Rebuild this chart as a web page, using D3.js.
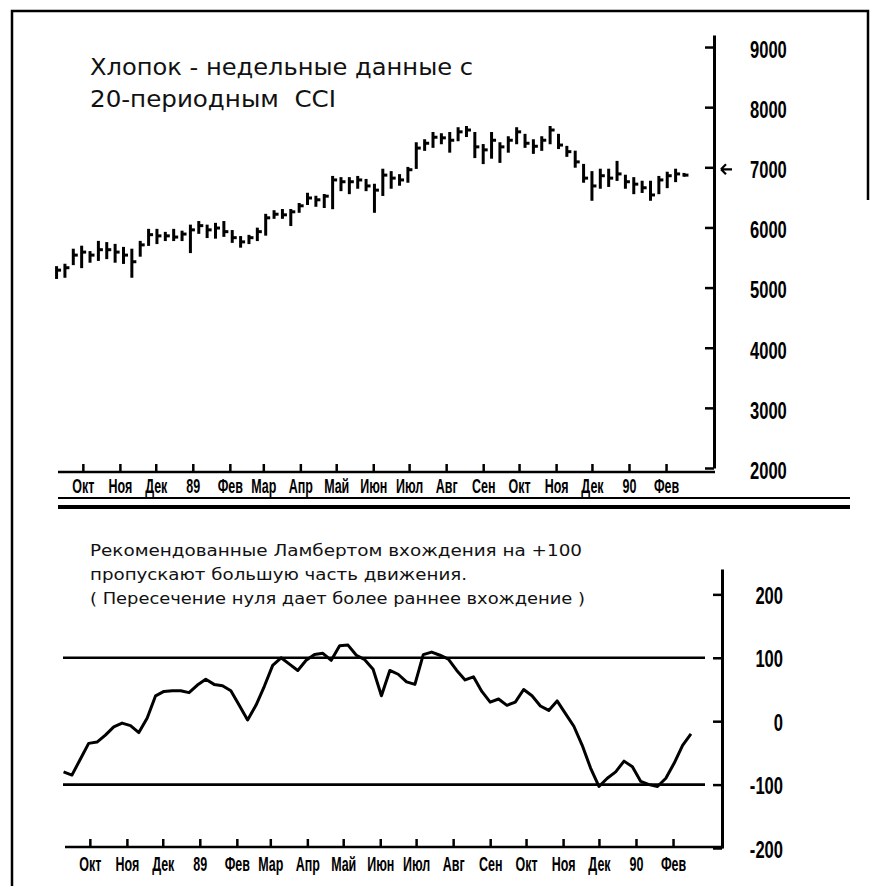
<!DOCTYPE html>
<meta charset="utf-8">
<head>
<script src="https://d3js.org/d3.v7.min.js"></script>
<style>
body { margin: 0; background: #fff; }
.num { font-family: "Liberation Sans", Arial, sans-serif; font-weight: bold; }
.note { font-family: "DejaVu Sans", sans-serif; fill: #111; }
</style>
</head>
<body>
<svg width="872" height="886"></svg>
<script>
// weekly cotton bars, Sep 1988 - Feb 1990
var priceHigh = [5340,5380,5630,5680,5590,5760,5740,5710,5660,5630,5760,5960,5960,5910,5960,5930,
  6030,6090,6030,6060,6090,5940,5840,5860,5980,6210,6270,6290,6290,6390,6560,6510,6540,6840,6820,6820,
  6840,6790,6710,6960,6920,6870,6990,7400,7450,7570,7550,7570,7650,7670,7570,7370,7570,7400,7500,7650,
  7540,7450,7500,7670,7540,7340,7260,7040,6920,6960,6960,7090,6860,6820,6760,6760,6840,6910,6960,6890];
var priceLow = [5160,5180,5390,5340,5430,5460,5490,5430,5410,5180,5530,5710,5740,5790,5790,5790,
  5590,5910,5840,5830,5860,5760,5680,5740,5790,5880,6160,6160,6040,6260,6390,6360,6340,6320,6620,6570,
  6660,6620,6260,6540,6660,6710,6760,6990,7290,7340,7400,7260,7450,7520,7170,7070,7160,7090,7260,7400,
  7340,7240,7290,7400,7320,7190,7010,6760,6460,6660,6690,6790,6660,6570,6590,6460,6570,6670,6770,6860];
var priceClose = [5290,5330,5540,5590,5540,5630,5630,5590,5540,5430,5710,5880,5860,5860,5840,5890,
  5960,6030,5960,5990,5930,5830,5760,5830,5930,6160,6220,6210,6260,6360,6490,6460,6520,6790,6760,6760,
  6790,6690,6620,6870,6820,6790,6960,7320,7400,7500,7490,7450,7590,7620,7340,7290,7450,7340,7450,7590,
  7400,7350,7450,7620,7370,7260,7090,6820,6690,6860,6820,6890,6760,6720,6660,6540,6790,6860,6890,6870];

// 20-period CCI, same weeks
var cci = [-80,-85,-60,-35,-33,-22,-9,-3,-7,-18,5,40,47,48,48,45,57,66,58,56,48,25,2,25,55,88,
  100,90,80,96,105,107,96,119,120,104,97,82,40,80,74,62,58,105,109,104,98,80,65,70,47,30,35,25,30,50,
  40,24,17,32,12,-8,-38,-74,-103,-90,-80,-63,-72,-95,-100,-103,-90,-66,-38,-20];

var monthTicks = ["1988-10-01","1988-11-01","1988-12-01","1989-01-01","1989-02-01","1989-03-01",
  "1989-04-01","1989-05-01","1989-06-01","1989-07-01","1989-08-01","1989-09-01","1989-10-01",
  "1989-11-01","1989-12-01","1990-01-01","1990-02-01"];
var monthLabels = ["Окт","Ноя","Дек","89","Фев","Мар","Апр","Май","Июн","Июл","Авг","Сен",
  "Окт","Ноя","Дек","90","Фев"];
var priceTicks = [2000,3000,4000,5000,6000,7000,8000,9000];
var cciTicks = [-200,-100,0,100,200];
var cciLevels = [100,-100];

var svg = d3.select("svg");
var parse = d3.timeParse("%Y-%m-%d");
var start = parse("1988-09-09");
var weeks = d3.range(priceClose.length).map(function(i) { return d3.timeWeek.offset(start, i); });
var tickDates = monthTicks.map(parse);

var x = d3.scaleTime()
    .domain([parse("1988-09-01"), parse("1990-03-01")])
    .range([47, 699.5]);

// narrow bold labels: squeeze the glyphs horizontally around their anchor
function squeeze(sel, sx, size) {
  sel.each(function() {
    var t = d3.select(this);
    var x0 = +t.attr("x") || 0, y0 = +t.attr("y") || 0;
    t.attr("x", 0).attr("y", 0)
      .attr("font-size", size)
      .attr("fill", "#000")
      .attr("transform", "translate(" + x0 + "," + y0 + ") scale(" + sx + ",1)");
  });
}

// frame
svg.append("rect").attr("width", 872).attr("height", 886).attr("fill", "#fff");
var frame = svg.append("g").attr("stroke", "#000").attr("fill", "none");
frame.append("path").attr("stroke-width", 2.5).attr("d", "M12,886V11H868V200");
frame.append("line").attr("x1", 58).attr("x2", 850).attr("y1", 498).attr("y2", 498).attr("stroke-width", 2);
frame.append("line").attr("x1", 58).attr("x2", 850).attr("y1", 507).attr("y2", 507).attr("stroke-width", 4);

// ---------- upper panel: price bars ----------
var upper = svg.append("g");
var y = d3.scaleLinear().domain([2000, 9200]).range([468, 35]);

var bars = upper.append("g").attr("stroke", "#000").attr("stroke-width", 3);
bars.selectAll("line.hl")
  .data(weeks)
  .enter().append("line")
    .attr("class", "hl")
    .attr("x1", function(d) { return x(d); })
    .attr("x2", function(d) { return x(d); })
    .attr("y1", function(d, i) { return y(priceHigh[i]) - 1; })
    .attr("y2", function(d, i) { return y(priceLow[i]) + 1; });
bars.selectAll("line.cl")
  .data(weeks)
  .enter().append("line")
    .attr("class", "cl")
    .attr("x1", function(d) { return x(d); })
    .attr("x2", function(d) { return x(d) + 4.5; })
    .attr("y1", function(d, i) { return y(priceClose[i]); })
    .attr("y2", function(d, i) { return y(priceClose[i]); });

var yAxisTop = upper.append("g")
    .attr("class", "num")
    .attr("transform", "translate(714,0)")
    .call(d3.axisRight(y).tickValues(priceTicks).tickSizeInner(-9).tickSizeOuter(0).tickPadding(36)
      .tickFormat(function(d) { return String(d); }));
yAxisTop.attr("font-family", null);
yAxisTop.select(".domain").attr("stroke-width", 3);
yAxisTop.selectAll(".tick line").attr("stroke-width", 2.5);
yAxisTop.selectAll("text").attr("dy", "0.45em");
squeeze(yAxisTop.selectAll("text"), 0.72, 23);

var xAxisTop = upper.append("g")
    .attr("class", "num")
    .attr("transform", "translate(0,472)")
    .call(d3.axisBottom(x).tickValues(tickDates).tickSizeInner(-8).tickSizeOuter(0).tickPadding(7)
      .tickFormat(function(d, i) { return monthLabels[i]; }));
xAxisTop.select(".domain").remove();
xAxisTop.attr("font-family", null);
xAxisTop.selectAll(".tick line").attr("stroke-width", 2.5);
squeeze(xAxisTop.selectAll("text"), 0.64, 19.5);
upper.append("line").attr("x1", 58).attr("x2", 715).attr("y1", 472).attr("y2", 472)
  .attr("stroke", "#000").attr("stroke-width", 2.5);

// marker arrow at the last price
upper.append("path")
  .attr("d", "M721," + (y(7000) + 2) + "l5,-5M721," + (y(7000) + 2) + "l5,5M721," + (y(7000) + 2) + "h11")
  .attr("stroke", "#000").attr("stroke-width", 2.2).attr("fill", "none");

var titles = ["Хлопок - недельные данные с", "20-периодным  CCI"];
var titleLen = [383, 246];
upper.selectAll("text.title")
  .data(titles)
  .enter().append("text")
    .attr("class", "note title")
    .attr("x", 90)
    .attr("y", function(d, i) { return 75 + i * 32; })
    .attr("font-size", 23)
    .attr("textLength", function(d, i) { return titleLen[i]; })
    .attr("lengthAdjust", "spacingAndGlyphs")
    .style("white-space", "pre")
    .text(function(d) { return d; });

// ---------- lower panel: CCI ----------
var lower = svg.append("g").attr("transform", "translate(7,0)");
var yc = d3.scaleLinear().domain([-200, 240]).range([848, 569]);

lower.selectAll("line.level")
  .data(cciLevels)
  .enter().append("line")
    .attr("class", "level")
    .attr("x1", 56).attr("x2", 698)
    .attr("y1", function(d) { return yc(d); })
    .attr("y2", function(d) { return yc(d); })
    .attr("stroke", "#000").attr("stroke-width", 2.7);

lower.append("path")
  .datum(cci)
  .attr("fill", "none").attr("stroke", "#000").attr("stroke-width", 3)
  .attr("stroke-linejoin", "round")
  .attr("d", d3.line().x(function(d, i) { return x(weeks[i]); }).y(function(d) { return yc(d); }));

var yAxisBot = lower.append("g")
    .attr("class", "num")
    .attr("transform", "translate(715,0)")
    .call(d3.axisRight(yc).tickValues(cciTicks).tickSizeInner(-9).tickSizeOuter(0).tickPadding(61)
      .tickFormat(function(d) { return String(d); }));
yAxisBot.attr("font-family", null);
yAxisBot.select(".domain").attr("stroke-width", 3);
yAxisBot.selectAll(".tick line").attr("stroke-width", 2.5);
yAxisBot.selectAll("text").attr("text-anchor", "end").attr("dy", "0.4em");
squeeze(yAxisBot.selectAll("text"), 0.72, 23);

var xAxisBot = lower.append("g")
    .attr("class", "num")
    .attr("transform", "translate(0,847)")
    .call(d3.axisBottom(x).tickValues(tickDates).tickSizeInner(-8).tickSizeOuter(0).tickPadding(10)
      .tickFormat(function(d, i) { return monthLabels[i]; }));
xAxisBot.select(".domain").remove();
xAxisBot.attr("font-family", null);
xAxisBot.selectAll(".tick line").attr("stroke-width", 2.5);
squeeze(xAxisBot.selectAll("text"), 0.64, 19.5);
lower.append("line").attr("x1", 58).attr("x2", 716).attr("y1", 847).attr("y2", 847)
  .attr("stroke", "#000").attr("stroke-width", 2.5);

var notes = ["Рекомендованные Ламбертом вхождения на +100",
  "пропускают большую часть движения.",
  "( Пересечение нуля дает более раннее вхождение )"];
var noteLen = [492, 377, 495];
svg.selectAll("text.cap")
  .data(notes)
  .enter().append("text")
    .attr("class", "note cap")
    .attr("x", 90)
    .attr("y", function(d, i) { return 556 + i * 24; })
    .attr("font-size", 16)
    .attr("textLength", function(d, i) { return noteLen[i]; })
    .attr("lengthAdjust", "spacingAndGlyphs")
    .text(function(d) { return d; });
</script>
</body>
